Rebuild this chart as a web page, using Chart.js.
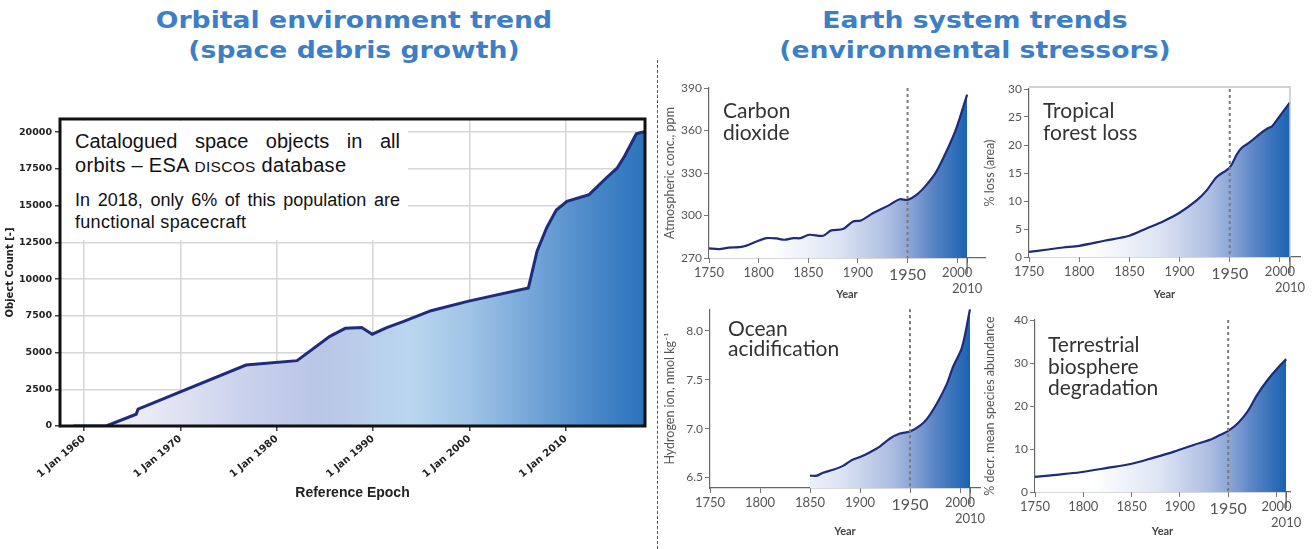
<!DOCTYPE html>
<html>
<head>
<meta charset="utf-8">
<script src="https://cdn.jsdelivr.net/npm/chart.js@4/dist/chart.umd.min.js"></script>
<style>
  body { margin:0; background:#fff; }
  #page { position:relative; width:1314px; height:549px; overflow:hidden; font-family:'Liberation Sans', Arial, sans-serif; }
  canvas { position:absolute; }
  .title { position:absolute; width:520px; text-align:center; font:bold 23px 'DejaVu Sans', Verdana, sans-serif; line-height:30px; color:#3d7fc6; transform:scaleX(1.16); }
  .divider { position:absolute; left:657px; top:60px; height:489px; border-left:1px dashed #555; }
  .note { position:absolute; left:62px; top:121px; width:346px; height:119px; background:#fff; }
  .note .l { position:absolute; left:13px; width:325px; color:#111; white-space:nowrap; }
  .note .j { white-space:normal; text-align:justify; text-align-last:justify; }
  .panel-label { position:absolute; font-family:Lato, sans-serif; font-size:21px; line-height:21.5px; color:#333; }
</style>
</head>
<body>
<div id="page">
  <div class="title" style="left:94px; top:5px;">Orbital environment trend<br>(space debris growth)</div>
  <div class="title" style="left:715px; top:5px;">Earth system trends<br>(environmental stressors)</div>
  <div class="divider"></div>

  <canvas id="debris" width="660" height="449" style="left:0; top:100px;"></canvas>
  <div class="note">
    <div class="l j" style="top:9px; font-size:20px; line-height:23.5px;">Catalogued space objects in all</div>
    <div class="l" style="top:32.5px; font-size:20px; line-height:23.5px; letter-spacing:0.3px;">orbits – ESA <span style="font-size:15.5px; letter-spacing:0.3px;">DISCOS</span> database</div>
    <div class="l j" style="top:69px; font-size:18px; line-height:21.5px;">In 2018, only 6% of this population are</div>
    <div class="l" style="top:90.5px; font-size:18px; line-height:21.5px; letter-spacing:0.3px;">functional spacecraft</div>
  </div>

  <canvas id="co2" width="335" height="230" style="left:660px; top:75px;"></canvas>
  <canvas id="forest" width="334" height="230" style="left:980px; top:75px;"></canvas>
  <canvas id="ocean" width="330" height="249" style="left:660px; top:300px;"></canvas>
  <canvas id="biosphere" width="334" height="244" style="left:980px; top:305px;"></canvas>

  <div class="panel-label" style="left:723px; top:99px;">Carbon<br>dioxide</div>
  <div class="panel-label" style="left:1043px; top:99px;">Tropical<br>forest loss</div>
  <div class="panel-label" style="left:728px; top:318px; line-height:20px;">Ocean<br>acidification</div>
  <div class="panel-label" style="left:1048px; top:333px;">Terrestrial<br>biosphere<br>degradation</div>
</div>

<script>
// ---- space debris (ESA DISCOS) ----
const debrisYears  = [1958.9, 1962.3, 1965.4, 1965.6, 1976.8, 1982.1, 1985.5, 1987.1, 1988.8, 1989.9, 1991.4, 1993.1, 1996.0, 1999.9, 2006.1, 2007.0, 2008.0, 2009.0, 2010.1, 2012.4, 2014.2, 2015.3, 2016.1, 2017.3, 2018.2];
const debrisCounts = [0, 0, 800, 1150, 4150, 4450, 6100, 6650, 6700, 6250, 6700, 7100, 7850, 8500, 9400, 11900, 13500, 14700, 15300, 15750, 16900, 17550, 18400, 19900, 20050];
const debrisXTicks = [1960, 1970, 1980, 1990, 2000, 2010];
const debrisYTicks = [0, 2500, 5000, 7500, 10000, 12500, 15000, 17500, 20000];

// ---- earth system panels ----
const yearTicks = [1750, 1800, 1850, 1900, 1950, 2000, 2010];

const co2Years = [1750, 1760, 1770, 1784, 1798, 1808, 1818, 1826, 1835, 1842, 1851, 1865, 1873, 1885, 1895, 1903, 1915, 1922, 1932, 1942, 1950, 1959, 1969, 1979, 1989, 1999, 2010];
const co2Ppm   = [276.8, 276.3, 277.3, 278, 281.7, 284, 283.8, 282.9, 284, 284, 286.4, 285.7, 289.5, 290.4, 295.8, 296.5, 301.6, 304, 307.5, 311.5, 311, 314.5, 321.6, 331, 345, 361.4, 385.3];
const co2Ticks = [270, 300, 330, 360, 390];

const forestYears = [1750, 1767, 1784, 1800, 1825, 1850, 1867, 1884, 1900, 1917, 1927, 1937, 1950, 1957, 1962, 1970, 1980, 1988, 1992, 2000, 2010];
const forestLoss  = [0.9, 1.3, 1.7, 2.0, 2.9, 3.8, 5.1, 6.4, 7.9, 10.1, 11.9, 14.3, 16.0, 18.3, 19.5, 20.5, 22.0, 23.0, 23.3, 25.2, 27.6];
const forestTicks = [0, 5, 10, 15, 20, 25, 30];

const oceanYears = [1850, 1857, 1863, 1873, 1883, 1892, 1900, 1910, 1920, 1930, 1940, 1950, 1960, 1967, 1977, 1987, 1993, 2002, 2010];
const oceanH     = [6.52, 6.52, 6.55, 6.58, 6.62, 6.68, 6.71, 6.76, 6.82, 6.90, 6.95, 6.97, 7.03, 7.10, 7.26, 7.46, 7.63, 7.83, 8.22];
const oceanTicks = [6.5, 7.0, 7.5, 8.0];

const bioYears = [1750, 1772, 1797, 1825, 1849, 1873, 1894, 1915, 1932, 1942, 1950, 1960, 1970, 1980, 1991, 2001, 2010];
const bioLoss  = [3.5, 4.0, 4.6, 5.6, 6.5, 8.0, 9.4, 11.0, 12.2, 13.3, 14.2, 16.0, 18.7, 22.6, 26.1, 28.8, 30.9];
const bioTicks = [0, 10, 20, 30, 40];

Chart.defaults.font.family = 'Lato, sans-serif';

const toPoints = (xs, ys) => xs.map((x, i) => ({ x, y: ys[i] }));

// 左图：水平渐变填充
function debrisFill(ctx) {
  const a = ctx.chart.chartArea;
  if (!a) return 'rgba(0,0,0,0)';
  const g = ctx.chart.ctx.createLinearGradient(a.left, 0, a.right, 0);
  g.addColorStop(0, '#f7f7fb');
  g.addColorStop(0.15, '#e8eaf5');
  g.addColorStop(0.32, '#c9d1ec');
  g.addColorStop(0.44, '#b9c6e6');
  g.addColorStop(0.6, '#bad6ee');
  g.addColorStop(0.7, '#9fc4e6');
  g.addColorStop(0.82, '#6fa2d6');
  g.addColorStop(0.92, '#4686c7');
  g.addColorStop(1, '#2a73bb');
  return g;
}

// 右侧四图：1750 -> 2010 渐变
function trendFill(ctx) {
  const chart = ctx.chart;
  if (!chart.chartArea) return 'rgba(0,0,0,0)';
  const x = chart.scales.x;
  const g = chart.ctx.createLinearGradient(x.getPixelForValue(1750), 0, x.getPixelForValue(2010), 0);
  g.addColorStop(0, '#ffffff');
  g.addColorStop(0.23, '#ffffff');
  g.addColorStop(0.5, '#dde4f3');
  g.addColorStop(0.69, '#aebfe2');
  g.addColorStop(0.77, '#8ea7d7');
  g.addColorStop(0.865, '#5a85c6');
  g.addColorStop(1, '#1a62b1');
  return g;
}

const frame = {
  id: 'frame',
  afterDraw(chart) {
    const { ctx, chartArea: a } = chart;
    ctx.save();
    ctx.strokeStyle = '#111';
    ctx.lineWidth = 3;
    ctx.strokeRect(a.left, a.top, a.right - a.left, a.bottom - a.top);
    ctx.restore();
  }
};

const markers = {
  id: 'markers',
  afterDatasetsDraw(chart, args, opts) {
    const { ctx, chartArea: a, scales: { x } } = chart;
    ctx.save();
    if (opts.framed) {
      const rx = x.getPixelForValue(2010);
      ctx.strokeStyle = '#c4c4c4';
      ctx.lineWidth = 1.5;
      ctx.beginPath();
      ctx.moveTo(a.left, a.top - 2);
      ctx.lineTo(rx, a.top - 2);
      ctx.lineTo(rx, a.bottom);
      ctx.stroke();
    }
    const px = x.getPixelForValue(1950);
    ctx.strokeStyle = '#7a7a7a';
    ctx.lineWidth = 2;
    ctx.setLineDash([3, 3]);
    ctx.beginPath();
    ctx.moveTo(px, a.top);
    ctx.lineTo(px, a.bottom);
    ctx.stroke();
    ctx.setLineDash([]);
    const ex = x.getPixelForValue(2010);
    ctx.strokeStyle = '#555';
    ctx.lineWidth = 1.2;
    ctx.beginPath();
    ctx.moveTo(ex, a.bottom);
    ctx.lineTo(ex, a.bottom + 16);
    ctx.stroke();
    ctx.restore();
  }
};

new Chart(document.getElementById('debris'), {
  type: 'line',
  data: {
    datasets: [{
      data: toPoints(debrisYears, debrisCounts),
      borderColor: '#1f2c7c',
      borderWidth: 3,
      pointRadius: 0,
      tension: 0,
      fill: 'origin',
      backgroundColor: debrisFill,
    }],
  },
  options: {
    responsive: false,
    animation: false,
    devicePixelRatio: 1,
    layout: { padding: { top: 19, right: 15, bottom: 43, left: 0 } },
    plugins: { legend: { display: false }, tooltip: { enabled: false } },
    scales: {
      x: {
        type: 'linear', min: 1957.5, max: 2018.2,
        afterBuildTicks: s => { s.ticks = debrisXTicks.map(v => ({ value: v })); },
        afterFit: s => { s.height = 80; },
        grid: { color: '#d6d6d6', lineWidth: 1.5, tickLength: 5, tickColor: '#444' },
        border: { display: false },
        ticks: {
          autoSkip: false, minRotation: 40, maxRotation: 40, padding: 2,
          font: { family: 'DejaVu Sans', weight: 'bold', size: 10 }, color: '#222',
          callback: v => '1 Jan ' + v,
        },
        title: { display: true, text: 'Reference Epoch', font: { family: 'Liberation Sans', weight: 'bold', size: 14 }, color: '#222' },
      },
      y: {
        min: 0, max: 20900,
        afterBuildTicks: s => { s.ticks = debrisYTicks.map(v => ({ value: v })); },
        afterFit: s => { s.width = 60; },
        grid: { color: '#d6d6d6', lineWidth: 1.5, tickLength: 5, tickColor: '#444' },
        border: { display: false },
        ticks: { font: { family: 'DejaVu Sans', weight: 'bold', size: 9.5 }, color: '#222', padding: 3, callback: v => String(v) },
        title: { display: true, text: 'Object Count [-]', font: { family: 'DejaVu Sans', weight: 'bold', size: 10 }, color: '#222', padding: 4 },
      },
    },
  },
  plugins: [frame],
});

function trendPanel(id, o) {
  return new Chart(document.getElementById(id), {
    type: 'line',
    data: {
      datasets: [{
        data: toPoints(o.years, o.values),
        borderColor: '#1d2c78',
        borderWidth: 2.2,
        pointRadius: 0,
        tension: 0.3,
        fill: 'start',
        backgroundColor: trendFill,
      }],
    },
    options: {
      responsive: false,
      animation: false,
      devicePixelRatio: 1,
      layout: { padding: { top: o.padTop, right: o.padRight, bottom: o.padBottom, left: 0 } },
      plugins: { legend: { display: false }, tooltip: { enabled: false }, markers: { framed: !!o.framed } },
      scales: {
        x: {
          type: 'linear', min: 1750, max: o.xMax,
          afterBuildTicks: s => { s.ticks = yearTicks.map(v => ({ value: v })); },
          afterFit: s => { s.height = o.xHeight; },
          grid: { drawOnChartArea: false, tickLength: 5, tickColor: '#777' },
          border: { color: '#666', width: 1.2 },
          ticks: {
            autoSkip: false, maxRotation: 0, padding: 2, color: '#555',
            font: c => (c.tick && c.tick.value === 1950) ? { size: 16 } : { size: 13 },
            callback: v => v === 2010 ? ['', '2010'] : String(v),
          },
          title: { display: true, text: 'Year', font: { weight: 'bold', size: 11 }, color: '#444' },
        },
        y: {
          min: o.min, max: o.max,
          afterBuildTicks: s => { s.ticks = o.ticks.map(v => ({ value: v })); },
          afterFit: s => { s.width = o.yWidth; },
          grid: { drawOnChartArea: false, tickLength: 5, tickColor: '#777' },
          border: { color: '#666', width: 1.2 },
          ticks: { color: '#555', font: { size: 12 }, padding: 2, callback: o.fmt || (v => String(v)) },
          title: { display: true, text: o.yTitle, font: { size: 12.5 }, color: '#555', padding: 2 },
        },
      },
    },
    plugins: [markers],
  });
}

trendPanel('co2', {
  years: co2Years, values: co2Ppm, ticks: co2Ticks, min: 270, max: 390,
  yTitle: 'Atmospheric conc., ppm', yWidth: 49, padTop: 13, padRight: 10, padBottom: 0, xHeight: 47, xMax: 2028,
});

trendPanel('forest', {
  years: forestYears, values: forestLoss, ticks: forestTicks, min: 0, max: 30,
  yTitle: '% loss (area)', yWidth: 49, padTop: 14, padRight: 14, padBottom: 0, xHeight: 48, xMax: 2020, framed: true,
});

trendPanel('ocean', {
  years: oceanYears, values: oceanH, ticks: oceanTicks, min: 6.394, max: 8.22,
  yTitle: 'Hydrogen ion, nmol kg⁻¹', yWidth: 50, padTop: 7, padRight: 10, padBottom: 7, xHeight: 54, xMax: 2020,
  fmt: v => v.toFixed(1),
});

trendPanel('biosphere', {
  years: bioYears, values: bioLoss, ticks: bioTicks, min: 0, max: 40,
  yTitle: '% decr. mean species abundance', yWidth: 55, padTop: 15, padRight: 24, padBottom: 7, xHeight: 50, xMax: 2014,
});
</script>
</body>
</html>
